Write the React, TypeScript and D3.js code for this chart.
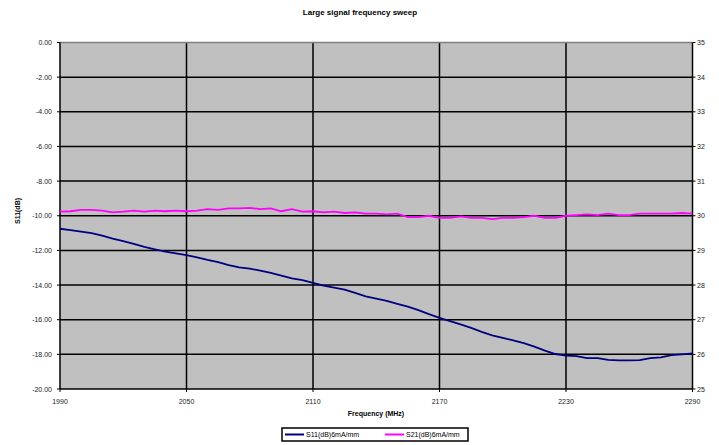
import React from 'react';
import * as d3 from 'd3';

const freqs = d3.range(1990, 2291, 5);

const s11 = [
  -10.75, -10.83, -10.92, -11.0, -11.15, -11.32, -11.47, -11.63, -11.8, -11.94,
  -12.07, -12.17, -12.27, -12.4, -12.55, -12.68, -12.85, -12.98, -13.05, -13.17,
  -13.3, -13.46, -13.62, -13.72, -13.88, -14.04, -14.15, -14.27, -14.45, -14.65,
  -14.78, -14.92, -15.08, -15.25, -15.45, -15.68, -15.9, -16.08, -16.27, -16.47,
  -16.7, -16.9, -17.05, -17.2, -17.35, -17.55, -17.78, -17.98, -18.07, -18.1,
  -18.22, -18.22, -18.32, -18.35, -18.35, -18.33, -18.22, -18.17, -18.05, -18.0,
  -17.95,
];

const s21 = [
  30.12, 30.13, 30.17, 30.17, 30.15, 30.1, 30.12, 30.15, 30.12, 30.15,
  30.13, 30.15, 30.13, 30.15, 30.19, 30.17, 30.21, 30.21, 30.23, 30.19,
  30.21, 30.13, 30.19, 30.12, 30.13, 30.1, 30.12, 30.08, 30.1, 30.06,
  30.06, 30.04, 30.06, 29.96, 29.96, 30.0, 29.94, 29.94, 29.98, 29.94,
  29.94, 29.9, 29.94, 29.94, 29.96, 30.0, 29.94, 29.94, 30.0, 30.02,
  30.04, 30.02, 30.06, 30.02, 30.02, 30.06, 30.06, 30.06, 30.06, 30.08,
  30.06,
];

const xTicks = [1990, 2050, 2110, 2170, 2230, 2290];
const leftTicks = d3.range(0, -20.01, -2);
const rightTicks = d3.range(25, 35.01, 1);

const series = [
  { name: 'S11(dB)6mA/mm', color: '#000080' },
  { name: 'S21(dB)6mA/mm', color: '#FF00FF' },
];

export default function App() {
  const width = 719;
  const height = 445;
  const left = 60;
  const right = 692.5;
  const top = 42.5;
  const bottom = 389;
  const font = 'Liberation Sans, Arial, sans-serif';

  const x = d3.scaleLinear().domain([1990, 2290]).range([left, right]);
  const y = d3.scaleLinear().domain([-20, 0]).range([bottom, top]);
  const y2 = d3.scaleLinear().domain([25, 35]).range([bottom, top]);

  const lineS11 = d3.line<number>().x((d, i) => x(freqs[i])).y(d => y(d));
  const lineS21 = d3.line<number>().x((d, i) => x(freqs[i])).y(d => y2(d));

  return (
    <div style={{ position: 'absolute', left: 0, top: 0 }}>
      <svg width={width} height={height} style={{ display: 'block', background: '#fff' }} fontFamily={font}>
        <text x={360} y={15} textAnchor="middle" fontSize={8} fontWeight="bold" fill="#000">
          Large signal frequency sweep
        </text>

        <rect x={left} y={top} width={right - left} height={bottom - top} fill="#C0C0C0" />

        {leftTicks.filter(t => t !== 0 && t !== -20).map(t => (
          <line key={'h' + t} x1={left} x2={right} y1={y(t)} y2={y(t)} stroke="#000" strokeWidth={1.5} />
        ))}
        {xTicks.filter(t => t !== 1990 && t !== 2290).map(t => (
          <line key={'v' + t} x1={x(t)} x2={x(t)} y1={top} y2={bottom} stroke="#000" strokeWidth={1.5} />
        ))}

        <line x1={left} x2={right} y1={top} y2={top} stroke="#808080" strokeWidth={1.5} />
        <line x1={left} x2={left} y1={top} y2={bottom} stroke="#000" strokeWidth={1.5} />
        <line x1={right} x2={right} y1={top} y2={bottom} stroke="#000" strokeWidth={1.5} />
        <line x1={left} x2={right} y1={bottom} y2={bottom} stroke="#000" strokeWidth={1.5} />

        <path d={lineS11(s11) || ''} fill="none" stroke={series[0].color} strokeWidth={1.8} />
        <path d={lineS21(s21) || ''} fill="none" stroke={series[1].color} strokeWidth={1.8} />

        {leftTicks.map(t => (
          <g key={'l' + t}>
            <line x1={left - 3} x2={left} y1={y(t)} y2={y(t)} stroke="#000" />
            <text x={52} y={y(t) + 2.5} textAnchor="end" fontSize={7} fill="#222">{t.toFixed(2)}</text>
          </g>
        ))}
        {rightTicks.map(t => (
          <g key={'r' + t}>
            <line x1={right} x2={right + 3} y1={y2(t)} y2={y2(t)} stroke="#000" />
            <text x={697} y={y2(t) + 2.5} fontSize={7} fill="#222">{t}</text>
          </g>
        ))}
        {xTicks.map(t => (
          <g key={'b' + t}>
            <line x1={x(t)} x2={x(t)} y1={bottom} y2={bottom + 3} stroke="#000" />
            <text x={x(t)} y={403.5} textAnchor="middle" fontSize={7} fill="#222">{t}</text>
          </g>
        ))}

        <text x={376} y={416} textAnchor="middle" fontSize={7} fontWeight="bold" fill="#000">
          Frequency (MHz)
        </text>
        <text transform="translate(20,211) rotate(-90)" textAnchor="middle" fontSize={7} fontWeight="bold" fill="#000">
          S11(dB)
        </text>

        <rect x={282} y={428} width={186} height={13} fill="#fff" stroke="#000" strokeWidth={1.5} />
        {series.map((s, i) => {
          const lx = i === 0 ? 285 : 385;
          return (
            <g key={s.name}>
              <line x1={lx} x2={lx + 19} y1={434.5} y2={434.5} stroke={s.color} strokeWidth={2} />
              <text x={lx + 21} y={437} fontSize={7} fill="#000">{s.name}</text>
            </g>
          );
        })}
      </svg>
    </div>
  );
}
